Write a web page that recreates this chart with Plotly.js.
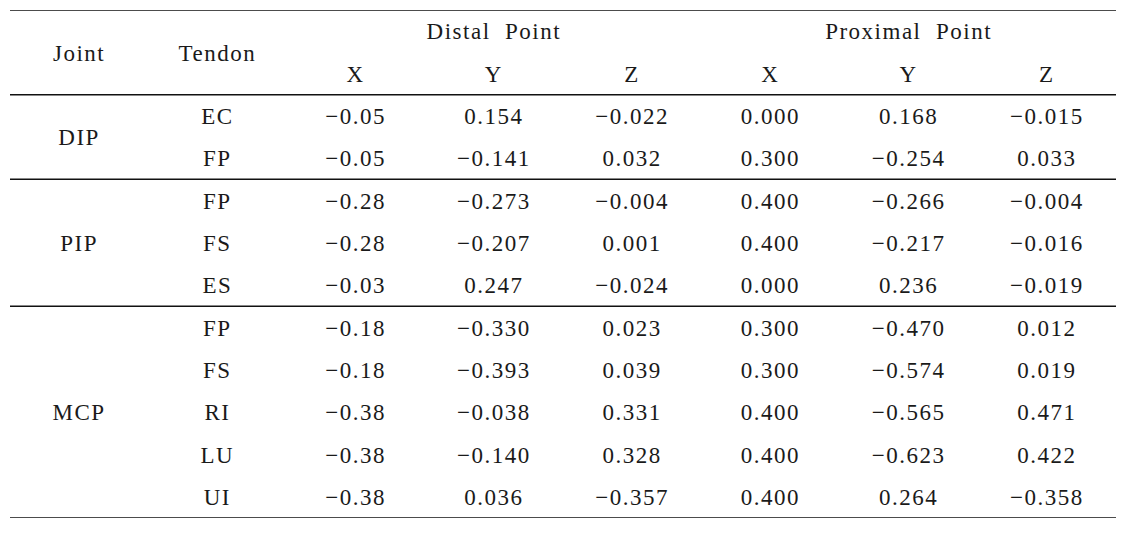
<!DOCTYPE html>
<html>
<head>
<meta charset="utf-8">
<script src="https://cdn.plot.ly/plotly-3.0.1.min.js"></script>
<style>
  html, body { margin: 0; padding: 0; background: #ffffff; }
  #chart { width: 1128px; height: 535px; }
  #chart .main-svg text { letter-spacing: 1.5px; }
  #chart .textpoint text { transform: translateY(2.5px); }
</style>
</head>
<body>
<div id="chart"></div>
<script>
// ---- Data ----
const columnKeys = ['joint', 'tendon', 'dX', 'dY', 'dZ', 'pX', 'pY', 'pZ'];
const headerGroups = ['Distal\u00a0\u00a0Point', 'Proximal\u00a0\u00a0Point'];
const headerGroupCols = ['dY', 'pY'];
const headerSub = ['X', 'Y', 'Z', 'X', 'Y', 'Z'];
const joints = ['DIP', 'PIP', 'MCP'];
const jointRowCounts = [2, 3, 5];
const tendons = ['EC', 'FP', 'FP', 'FS', 'ES', 'FP', 'FS', 'RI', 'LU', 'UI'];
const distalX = [-0.05, -0.05, -0.28, -0.28, -0.03, -0.18, -0.18, -0.38, -0.38, -0.38];
const distalY = [0.154, -0.141, -0.273, -0.207, 0.247, -0.330, -0.393, -0.038, -0.140, 0.036];
const distalZ = [-0.022, 0.032, -0.004, 0.001, -0.024, 0.023, 0.039, 0.331, 0.328, -0.357];
const proximalX = [0.000, 0.300, 0.400, 0.400, 0.000, 0.300, 0.300, 0.400, 0.400, 0.400];
const proximalY = [0.168, -0.254, -0.266, -0.217, 0.236, -0.470, -0.574, -0.565, -0.623, 0.264];
const proximalZ = [-0.015, 0.033, -0.004, -0.016, -0.019, 0.012, 0.019, 0.471, 0.422, -0.358];

// ---- Layout helpers ----
const HEADER_ROWS = 2;
const nData = tendons.length;
const totalRows = HEADER_ROWS + nData;
const font = { family: 'Liberation Serif, Times New Roman, serif', size: 23, color: '#1a1a1a' };

function fmt(v, d) {
  const s = Math.abs(v).toFixed(d);
  return (v < 0 ? '\u2212' : '') + s;
}
function textTrace(xs, ys, texts) {
  return {
    type: 'scatter', mode: 'text', x: xs, y: ys, text: texts,
    textposition: 'middle center', textfont: font,
    cliponaxis: false, hoverinfo: 'skip', showlegend: false
  };
}

const dataRowY = tendons.map((_, i) => HEADER_ROWS + i + 0.5);
const traces = [];

// header: Joint, Tendon (span both header rows)
traces.push(textTrace(['joint', 'tendon'], [HEADER_ROWS / 2, HEADER_ROWS / 2], ['Joint', 'Tendon']));
// header group titles
traces.push(textTrace(headerGroupCols, headerGroupCols.map(() => 0.5), headerGroups));
// sub headers
traces.push(textTrace(columnKeys.slice(2), headerSub.map(() => 1.5), headerSub));

// joint labels centred on their row spans
let start = HEADER_ROWS;
const jointY = [];
jointRowCounts.forEach(n => { jointY.push(start + n / 2); start += n; });
traces.push(textTrace(joints.map(() => 'joint'), jointY, joints));

// tendon + value columns
traces.push(textTrace(tendons.map(() => 'tendon'), dataRowY, tendons));
const valueCols = [
  ['dX', distalX, 2], ['dY', distalY, 3], ['dZ', distalZ, 3],
  ['pX', proximalX, 3], ['pY', proximalY, 3], ['pZ', proximalZ, 3]
];
valueCols.forEach(([key, arr, d]) => {
  traces.push(textTrace(arr.map(() => key), dataRowY, arr.map(v => fmt(v, d))));
});

// horizontal rules: top, below header, between joint groups, bottom
const ruleRows = [0, HEADER_ROWS];
let acc = HEADER_ROWS;
jointRowCounts.forEach(n => { acc += n; ruleRows.push(acc); });
const shapes = ruleRows.map(r => ({
  type: 'line', xref: 'paper', yref: 'y', x0: 0, x1: 1, y0: r, y1: r,
  line: { color: '#111111', width: 1.5 }
}));

const layout = {
  width: 1128, height: 535,
  margin: { l: 10, r: 12, t: 10, b: 17, pad: 0 },
  paper_bgcolor: '#ffffff', plot_bgcolor: '#ffffff',
  showlegend: false, hovermode: false,
  xaxis: { type: 'category', categoryorder: 'array', categoryarray: columnKeys,
           range: [-0.5, columnKeys.length - 0.5], visible: false, fixedrange: true },
  yaxis: { type: 'linear', range: [totalRows, 0], visible: false, fixedrange: true },
  shapes: shapes
};

Plotly.newPlot('chart', traces, layout, { displayModeBar: false, staticPlot: true });
</script>
</body>
</html>
